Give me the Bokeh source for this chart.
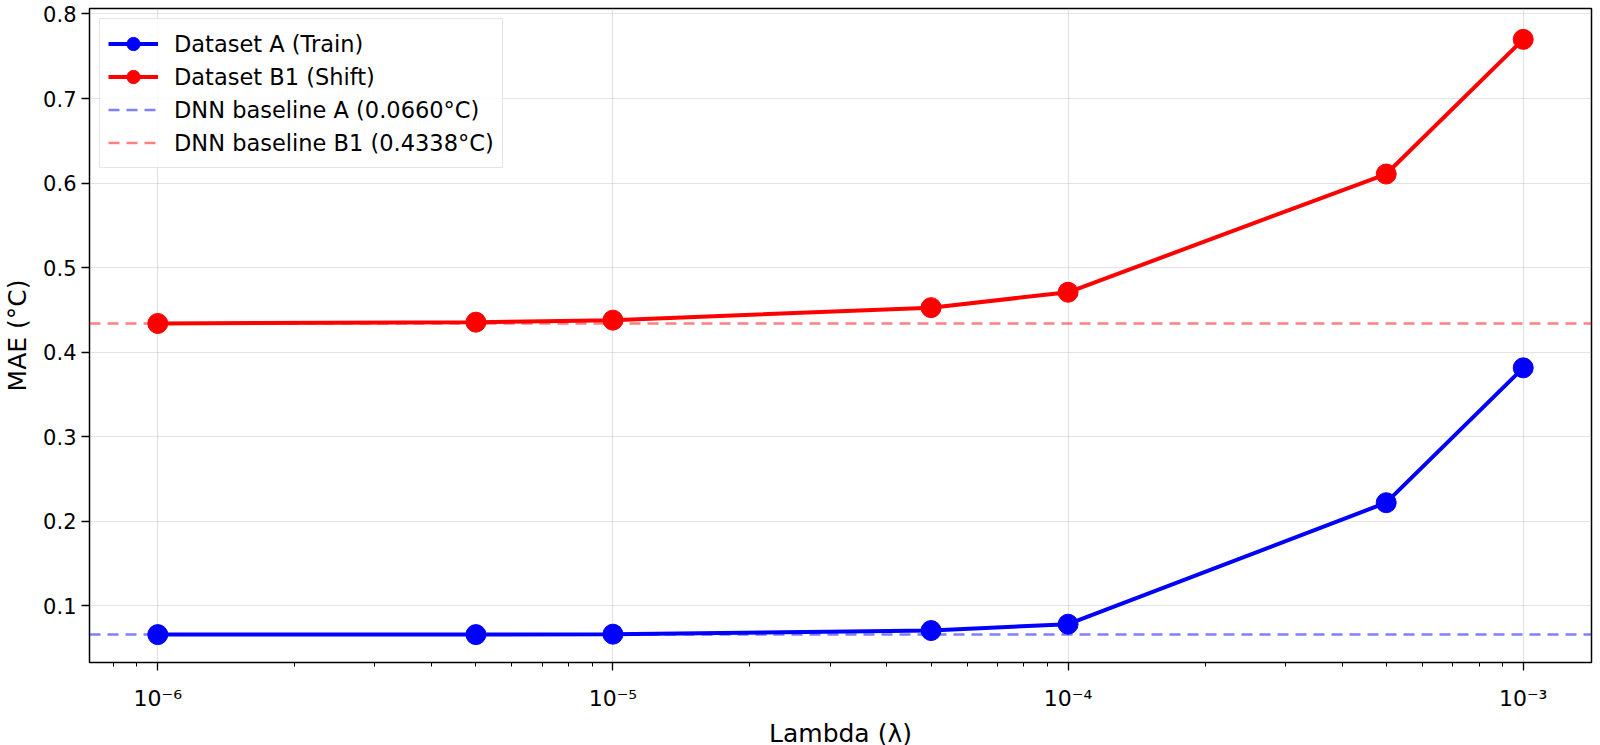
from bokeh.plotting import figure
from bokeh.models import (Range1d, FixedTicker, CustomJSTickFormatter,
                          Legend, LegendItem, ColumnDataSource)
from bokeh.embed import file_html
from bokeh.resources import INLINE
import math

# ---- data ----
lambdas = [1e-6, 5e-6, 1e-5, 5e-5, 1e-4, 5e-4, 1e-3]
mae_a = [0.066, 0.066, 0.0665, 0.0708, 0.0783, 0.222, 0.3815]
mae_b1 = [0.434, 0.4355, 0.4379, 0.4527, 0.4709, 0.6107, 0.770]
baseline_a = 0.0660
baseline_b1 = 0.4338
x_ticks = [1e-6, 1e-5, 1e-4, 1e-3]
x_tick_labels = ["10\u207b\u2076", "10\u207b\u2075", "10\u207b\u2074", "10\u207b\u00b3"]
y_ticks = [0.1, 0.2, 0.3, 0.4, 0.5, 0.6, 0.7, 0.8]
y_limits = [0.033, 0.8065]
label_a = "Dataset A (Train)"
label_b1 = "Dataset B1 (Shift)"
label_base_a = "DNN baseline A (0.0660\u00b0C)"
label_base_b1 = "DNN baseline B1 (0.4338\u00b0C)"

FONT = "DejaVu Sans"
BLUE = "#0000ff"
RED = "#ff0000"

# x limits with 5% margin in log space
lx0, lx1 = math.log10(min(lambdas)), math.log10(max(lambdas))
mx = (lx1 - lx0) * 0.05
x_start, x_end = 10 ** (lx0 - mx), 10 ** (lx1 + mx)

p = figure(x_axis_type="log", output_backend="svg", toolbar_location=None,
           frame_width=1502, frame_height=654,
           min_border_left=80, min_border_right=5, min_border_top=8,
           min_border_bottom=10,
           x_range=Range1d(x_start, x_end),
           y_range=Range1d(y_limits[0], y_limits[1]))

p.background_fill_color = "white"
p.border_fill_color = "white"
p.outline_line_color = "black"
p.outline_line_width = 1.5

# grid
for g in (p.xgrid, p.ygrid):
    g.grid_line_color = "#b0b0b0"
    g.grid_line_alpha = 0.35
    g.grid_line_width = 1.2

# x ticks
minor = []
lo = x_ticks[0] / 10
for t in [lo] + x_ticks:
    for k in range(2, 10):
        minor.append(t * k)
p.xaxis.ticker = FixedTicker(ticks=x_ticks, minor_ticks=minor)
p.xaxis.formatter = CustomJSTickFormatter(args=dict(tvals=x_ticks, tlabels=x_tick_labels), code="""
for (let i = 0; i < tvals.length; i++) {
  if (Math.abs(Math.log10(tick) - Math.log10(tvals[i])) < 1e-6) { return tlabels[i]; }
}
return '';
""")
p.yaxis.ticker = FixedTicker(ticks=y_ticks)
p.yaxis.minor_tick_line_color = None

for ax in (p.xaxis, p.yaxis):
    ax.axis_line_color = None
    ax.major_tick_line_color = "black"
    ax.major_tick_line_width = 1.3
    ax.major_tick_out = 8
    ax.major_tick_in = 0
    ax.minor_tick_out = 4
    ax.minor_tick_in = 0
    ax.minor_tick_line_width = 1
    ax.major_label_text_font = FONT
    ax.major_label_text_font_size = "21px"
    ax.major_label_text_color = "black"
    ax.axis_label_text_font = FONT
    ax.axis_label_text_font_size = "25px"
    ax.axis_label_text_font_style = "normal"
    ax.axis_label_text_color = "black"

p.xaxis.major_label_text_font_size = "22px"
p.xaxis.major_label_standoff = 15
p.xaxis.axis_label_standoff = 5
p.yaxis.major_label_standoff = 5
p.yaxis.axis_label_standoff = 8
p.xaxis.axis_label = "Lambda (\u03bb)"
p.yaxis.axis_label = "MAE (\u00b0C)"

src = ColumnDataSource(dict(x=lambdas, a=mae_a, b=mae_b1))

# baselines spanning the whole x range
base_src = ColumnDataSource(dict(x=[x_start, x_end],
                                 a=[baseline_a, baseline_a],
                                 b=[baseline_b1, baseline_b1]))

la = p.line("x", "a", source=src, line_color=BLUE, line_width=4)
sa = p.scatter("x", "a", source=src, size=20, fill_color=BLUE, line_color=BLUE)
lb = p.line("x", "b", source=src, line_color=RED, line_width=4)
sb = p.scatter("x", "b", source=src, size=20, fill_color=RED, line_color=RED)

pa = p.line("x", "a", source=base_src, line_color=BLUE, line_alpha=0.5,
            line_width=2.5, line_dash="11 7")
pb = p.line("x", "b", source=base_src, line_color=RED, line_alpha=0.5,
            line_width=2.5, line_dash="11 7")

legend = Legend(items=[
    LegendItem(label=label_a, renderers=[la, sa]),
    LegendItem(label=label_b1, renderers=[lb, sb]),
    LegendItem(label=label_base_a, renderers=[pa]),
    LegendItem(label=label_base_b1, renderers=[pb]),
], location="top_left")
legend.margin = 10
legend.padding = 8
legend.spacing = 0
legend.glyph_width = 50
legend.glyph_height = 33
legend.label_height = 24
legend.label_standoff = 16
legend.label_text_font = FONT
legend.label_text_font_size = "22.5px"
legend.label_text_color = "black"
legend.border_line_color = "#cccccc"
legend.border_line_width = 1.2
legend.background_fill_color = "white"
legend.background_fill_alpha = 0.8
p.add_layout(legend, "center")

open("out.html", "w", encoding="utf-8").write(file_html(p, INLINE))
